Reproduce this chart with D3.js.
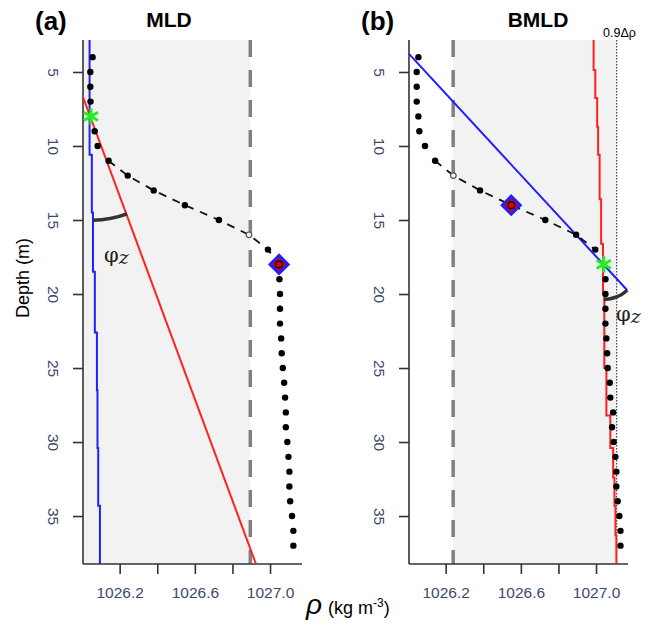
<!DOCTYPE html>
<html>
<head>
<meta charset="utf-8">
<script src="https://cdn.jsdelivr.net/npm/d3@7/dist/d3.min.js"></script>
<style>
  body { margin: 0; background: #fff; }
  text { font-family: "Liberation Sans", Arial, sans-serif; }
  .tick line, .domain { stroke: #333; stroke-width: 1.6; }
  .tick text { fill: #3b4a6b; font-size: 15.5px; }
</style>
</head>
<body>
<div id="chart"></div>
<script>
// depth of each sample (m)
var depths = [4,5,6,7,8,9,10,11,12,13,14,15,16,17,18,19,20,21,22,23,24,25,26,27,28,29,30,31,32,33,34,35,36,37];

// density profile, panel (a)
var rhoA = [1026.056,1026.044,1026.044,1026.045,1026.047,1026.067,1026.083,1026.141,1026.243,1026.381,
            1026.547,1026.728,1026.888,1026.989,1027.048,1027.050,1027.053,1027.053,1027.053,1027.059,
            1027.062,1027.068,1027.075,1027.080,1027.084,1027.084,1027.092,1027.098,1027.103,1027.103,
            1027.107,1027.117,1027.124,1027.124];

// density profile, panel (b)
var rhoB = [1026.055,1026.046,1026.046,1026.046,1026.055,1026.060,1026.090,1026.144,1026.241,1026.383,
            1026.549,1026.730,1026.894,1026.996,1027.041,1027.050,1027.050,1027.050,1027.050,1027.055,
            1027.059,1027.062,1027.073,1027.076,1027.091,1027.085,1027.094,1027.103,1027.108,1027.108,
            1027.115,1027.124,1027.130,1027.130];

// stepped lines [depth, rho]
var blueA = [[2.84,1026.040],[10.6,1026.052],[14.5,1026.058],[18.5,1026.068],[22.6,1026.079],
             [26.5,1026.082],[30.4,1026.086],[34.3,1026.095],[38.24,1026.095]];
var redB  = [[2.84,1026.987],[4.86,1026.996],[6.76,1027.006],[8.7,1027.011],[10.6,1027.019],
             [13.6,1027.027],[16.6,1027.037],[20,1027.044],[25,1027.055],[28.2,1027.076],
             [30.4,1027.091],[32.4,1027.098],[34.3,1027.103],[36.3,1027.108],[38.24,1027.108]];

// straight fitted lines [depth, rho]
var redA  = [[6.69,1026.005],[38.24,1026.925]];
var blueB = [[3.78,1026.005],[19.73,1027.165]];

var xTicks = [1026.2,1026.4,1026.6,1026.8,1027.0];
var xLabels = [1026.2,1026.6,1027.0];
var yTicks = [5,10,15,20,25,30,35];

var panels = [
  { tag:"(a)", title:"MLD", left:83, rho:rhoA, thresh:1026.895, shade:[1026.005,1026.895],
    dashed:[11,18], cross:16, star:8, diamond:18, arcR:104 },
  { tag:"(b)", title:"BMLD", left:409, rho:rhoB, thresh:1026.24, shade:[1026.24,1027.11],
    dashed:[11,17], cross:12, star:18, diamond:14, arcR:35, dotted:1027.11 }
];

var W = 652, H = 626, plotTop = 40, plotBottom = 564, pw = 219;

var svg = d3.select("#chart").append("svg")
            .attr("width", W).attr("height", H);

var y = d3.scaleLinear().domain([2.84, 38.24]).range([plotTop, plotBottom]);

function drawPanel(p, idx)
{
   var x = d3.scaleLinear().domain([1026.005, 1027.17]).range([0, pw]);
   var g = svg.append("g").attr("transform", "translate(" + p.left + ",0)");
   var pts = depths.map(function (d, i) { return {d: d, r: p.rho[i]}; });
   function at(depth) { return pts.filter(function (q) { return q.d == depth; })[0]; }

   // shaded band
   g.append("rect")
    .attr("x", x(p.shade[0])).attr("y", plotTop)
    .attr("width", x(p.shade[1]) - x(p.shade[0]))
    .attr("height", plotBottom - plotTop)
    .attr("fill", "#f2f2f2");

   if (p.dotted)
      g.append("line")
       .attr("x1", x(p.dotted)).attr("x2", x(p.dotted))
       .attr("y1", plotTop).attr("y2", plotBottom)
       .attr("stroke", "#222").attr("stroke-width", 1)
       .attr("stroke-dasharray", "1.5,1.5");

   // threshold line
   g.append("line")
    .attr("x1", x(p.thresh)).attr("x2", x(p.thresh))
    .attr("y1", plotTop).attr("y2", plotBottom)
    .attr("stroke", "#808080").attr("stroke-width", 3.5)
    .attr("stroke-dasharray", "17,13");

   // axes
   g.append("g")
    .attr("transform", "translate(0," + plotBottom + ")")
    .call(d3.axisBottom(x).tickValues(xTicks).tickSize(10).tickPadding(13)
            .tickFormat(function (v) { return xLabels.indexOf(v) >= 0 ? d3.format(".1f")(v) : ""; }))
    .call(function (a) { a.select(".domain").attr("d", "M0,0H" + pw); });

   var ya = g.append("g")
    .call(d3.axisLeft(y).tickValues(yTicks).tickSize(10));
   ya.select(".domain").attr("d", "M0," + plotTop + "V" + plotBottom);
   ya.selectAll(".tick text")
     .attr("x", 0).attr("dy", 0)
     .attr("text-anchor", "middle")
     .attr("transform", "translate(-35,0) rotate(90)");

   var line = d3.line().x(function (q) { return x(q[1]); }).y(function (q) { return y(q[0]); });
   var lines = idx == 0 ? [[blueA, "#1f1fff", d3.curveStepBefore], [redA, "#ff2020", d3.curveLinear]]
                        : [[redB, "#ff2020", d3.curveStepBefore], [blueB, "#1f1fff", d3.curveLinear]];
   lines.forEach(function (l) {
      g.append("path")
       .attr("d", line.curve(l[2])(l[0]))
       .attr("fill", "none").attr("stroke", l[1]).attr("stroke-width", 2);
   });

   // dashed part of profile
   var seg = pts.filter(function (q) { return q.d >= p.dashed[0] && q.d <= p.dashed[1]; });
   g.append("path")
    .attr("d", d3.line().x(function (q) { return x(q.r); }).y(function (q) { return y(q.d); })(seg))
    .attr("fill", "none").attr("stroke", "#111").attr("stroke-width", 1.8)
    .attr("stroke-dasharray", "8,7");

   g.selectAll(".dot")
    .data(pts.filter(function (q) { return q.d != p.cross && q.d != p.star && q.d != p.diamond; }))
    .enter()
    .append("circle")
    .attr("cx", function (q) { return x(q.r); })
    .attr("cy", function (q) { return y(q.d); })
    .attr("r", 3.2)
    .attr("fill", "#000");

   var c = at(p.cross);
   g.append("circle")
    .attr("cx", x(c.r)).attr("cy", y(c.d)).attr("r", 2.8)
    .attr("fill", "#f2f2f2").attr("stroke", "#555").attr("stroke-width", 1.2);

   // angle arc around the star
   var s = at(p.star), sx = x(s.r), sy = y(s.d);
   var a0, a1, path = d3.path();
   if (idx == 0) {
      a0 = Math.atan2(y(redA[1][0]) - y(redA[0][0]), x(redA[1][1]) - x(redA[0][1]));
      a1 = Math.atan2(y(15) - sy, x(1026.058) - sx);
   } else {
      a0 = Math.atan2(y(blueB[1][0]) - sy, x(blueB[1][1]) - sx);
      a1 = Math.PI / 2;
   }
   path.arc(sx, sy, p.arcR, a0, a1);
   g.append("path")
    .attr("d", path.toString())
    .attr("fill", "none").attr("stroke", "#333").attr("stroke-width", 3.5);

   // diamond marker
   var m = at(p.diamond), mx = x(m.r), my = y(m.d), k = 9;
   g.append("path")
    .attr("d", "M" + mx + "," + (my - k) + "L" + (mx + k) + "," + my + "L" + mx + "," + (my + k) + "L" + (mx - k) + "," + my + "Z")
    .attr("fill", "#e00000").attr("stroke", "#1f1fff").attr("stroke-width", 3);
   g.append("circle")
    .attr("cx", mx).attr("cy", my).attr("r", 3.4)
    .attr("fill", "#e00000").attr("stroke", "#111").attr("stroke-width", 1.4);

   g.append("path")
    .attr("transform", "translate(" + sx + "," + sy + ")")
    .attr("d", d3.symbol().type(d3.symbolAsterisk).size(190)())
    .attr("fill", "none").attr("stroke", "#22ee22").attr("stroke-width", 3);

   // phi_z label
   var lbl = idx == 0 ? [104, 262] : [616, 321];
   var t = svg.append("text")
              .attr("x", lbl[0]).attr("y", lbl[1])
              .style("font-family", "'DejaVu Serif', 'Liberation Serif', serif")
              .style("font-size", "21px").attr("fill", "#222");
   t.append("tspan").text("φ");
   t.append("tspan").style("font-style", "italic").style("font-size", "19px").attr("dy", 2).text("z");

   // titles
   svg.append("text")
      .attr("x", p.left - 48).attr("y", 30)
      .style("font-size", "26px").style("font-weight", "bold")
      .text(p.tag);
   svg.append("text")
      .attr("x", p.left + (idx == 0 ? 86 : 129)).attr("y", 27)
      .attr("text-anchor", "middle")
      .style("font-size", "21px").style("font-weight", "bold")
      .text(p.title);
}

panels.forEach(drawPanel);

svg.append("text")
   .attr("x", 603).attr("y", 37)
   .style("font-size", "12.5px")
   .text("0.9Δρ");

svg.append("text")
   .attr("transform", "translate(29,278) rotate(-90)")
   .attr("text-anchor", "middle")
   .style("font-size", "18px")
   .text("Depth (m)");

var xl = svg.append("text").attr("x", 306).attr("y", 614);
xl.append("tspan").style("font-size", "28px").style("font-style", "italic").text("ρ");
xl.append("tspan").style("font-size", "18px").attr("dx", 6).text("(kg m");
xl.append("tspan").style("font-size", "12px").attr("dy", -7).text("-3");
xl.append("tspan").style("font-size", "18px").attr("dy", 7).text(")");
</script>
</body>
</html>
